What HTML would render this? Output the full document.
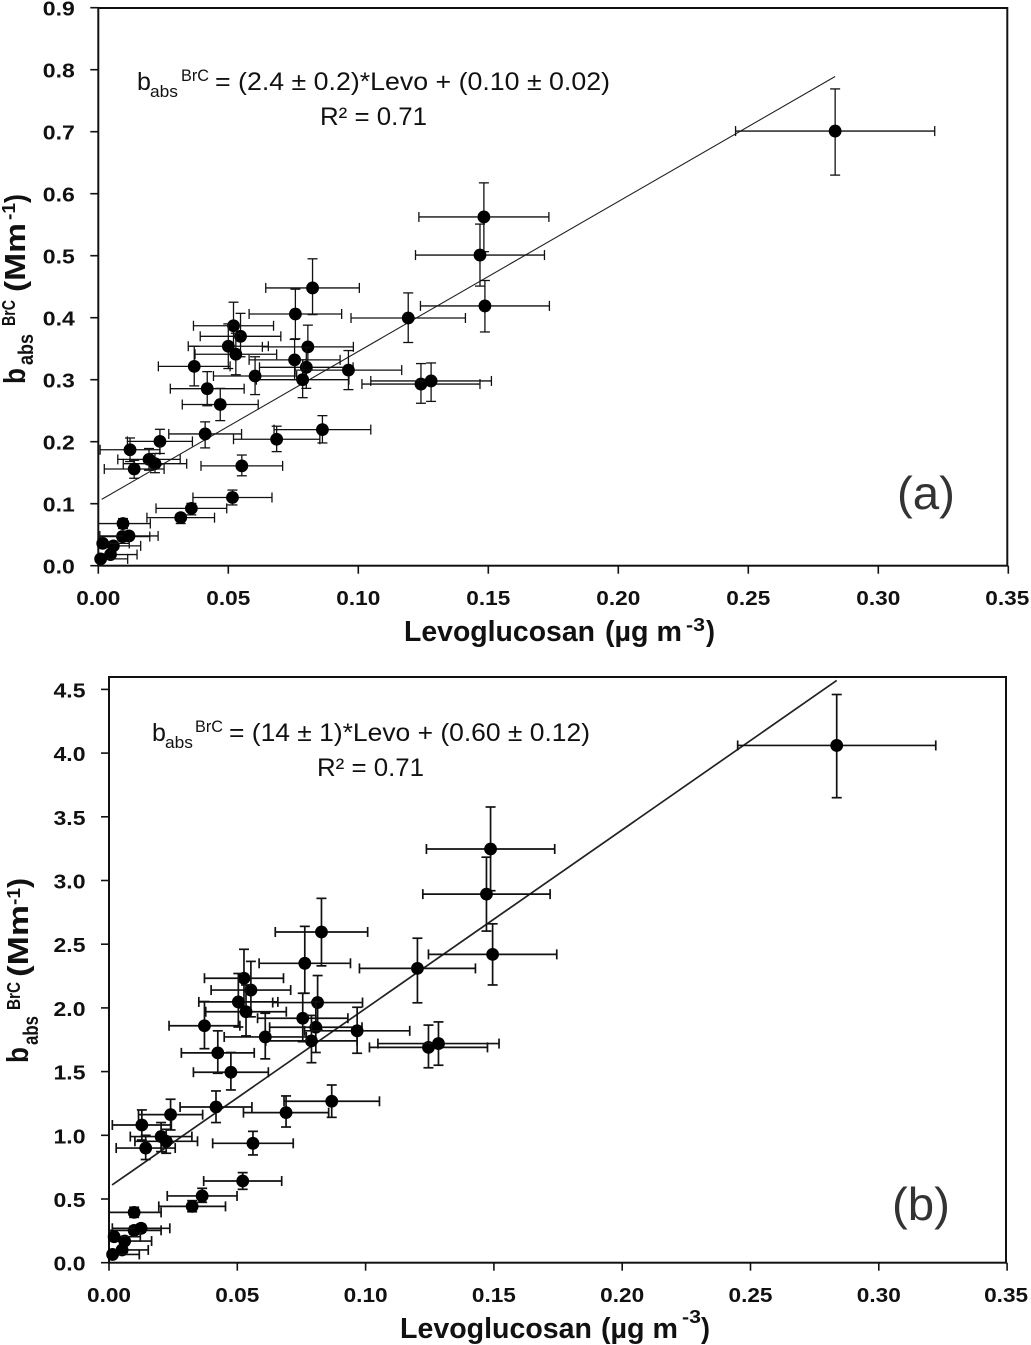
<!DOCTYPE html>
<html lang="en">
<head>
<meta charset="utf-8">
<title>Absorption versus levoglucosan scatter plots</title>
<style>
html,body{margin:0;padding:0;background:#fff}
svg{display:block;filter:blur(0.3px)}
text{font-family:"Liberation Sans",sans-serif;fill:#111}
.tick{font-size:20px;font-weight:bold}
.title{font-weight:bold}
.eq{font-size:25px}
</style>
</head>
<body>
<svg id="chart" width="1031" height="1345" viewBox="0 0 1031 1345" xmlns="http://www.w3.org/2000/svg">
<rect width="1031" height="1345" fill="#fff"/>
<g id="panel-a"></g>
<g id="panel-b"></g>

<g>
<text class="eq" x="137" y="90" textLength="12">b</text>
<text class="eq" x="150" y="97" style="font-size:17px" textLength="28" lengthAdjust="spacingAndGlyphs">abs</text>
<text class="eq" x="181" y="81" style="font-size:17px" textLength="28" lengthAdjust="spacingAndGlyphs">BrC</text>
<text class="eq" x="215" y="90" textLength="395" lengthAdjust="spacingAndGlyphs">= (2.4 ± 0.2)*Levo + (0.10 ± 0.02)</text>
<text class="eq" x="320" y="125" textLength="107" lengthAdjust="spacingAndGlyphs">R² = 0.71</text>
</g>
<g>
<text class="eq" x="152" y="741" textLength="12">b</text>
<text class="eq" x="165" y="748" style="font-size:17px" textLength="28" lengthAdjust="spacingAndGlyphs">abs</text>
<text class="eq" x="195" y="732" style="font-size:17px" textLength="28" lengthAdjust="spacingAndGlyphs">BrC</text>
<text class="eq" x="229" y="741" textLength="361" lengthAdjust="spacingAndGlyphs">= (14 ± 1)*Levo + (0.60 ± 0.12)</text>
<text class="eq" x="317" y="776" textLength="107" lengthAdjust="spacingAndGlyphs">R² = 0.71</text>
</g>

<text x="897" y="509" style="font-size:46px;fill:#333" textLength="58" lengthAdjust="spacingAndGlyphs">(a)</text>
<text x="892" y="1220" style="font-size:46px;fill:#333" textLength="58" lengthAdjust="spacingAndGlyphs">(b)</text>

<g>
<text class="title" x="404" y="641" style="font-size:29px" textLength="191" lengthAdjust="spacingAndGlyphs">Levoglucosan</text>
<text class="title" x="605" y="641" style="font-size:29px" textLength="77" lengthAdjust="spacingAndGlyphs">(µg m</text>
<text class="title" x="686" y="631" style="font-size:18px" textLength="19" lengthAdjust="spacingAndGlyphs">-3</text>
<text class="title" x="706" y="641" style="font-size:29px" textLength="9" lengthAdjust="spacingAndGlyphs">)</text>
</g>
<g>
<text class="title" x="400" y="1338" style="font-size:29px" textLength="192" lengthAdjust="spacingAndGlyphs">Levoglucosan</text>
<text class="title" x="601" y="1338" style="font-size:29px" textLength="77" lengthAdjust="spacingAndGlyphs">(µg m</text>
<text class="title" x="682" y="1323" style="font-size:18px" textLength="19" lengthAdjust="spacingAndGlyphs">-3</text>
<text class="title" x="701" y="1338" style="font-size:29px" textLength="9" lengthAdjust="spacingAndGlyphs">)</text>
</g>

<g transform="translate(25,384) rotate(-90)">
<text class="title" x="0" y="0" style="font-size:31px" textLength="16" lengthAdjust="spacingAndGlyphs">b</text>
<text class="title" x="19" y="8" style="font-size:21px" textLength="31" lengthAdjust="spacingAndGlyphs">abs</text>
<text class="title" x="58" y="-10" style="font-size:18px" textLength="26" lengthAdjust="spacingAndGlyphs">BrC</text>
<text class="title" x="92" y="0" style="font-size:29px" textLength="69" lengthAdjust="spacingAndGlyphs">(Mm</text>
<text class="title" x="164" y="-10" style="font-size:18px" textLength="17" lengthAdjust="spacingAndGlyphs">-1</text>
<text class="title" x="181" y="0" style="font-size:29px" textLength="9" lengthAdjust="spacingAndGlyphs">)</text>
</g>
<g transform="translate(28,1063) rotate(-90)">
<text class="title" x="0" y="0" style="font-size:31px" textLength="16" lengthAdjust="spacingAndGlyphs">b</text>
<text class="title" x="18" y="10" style="font-size:21px" textLength="29" lengthAdjust="spacingAndGlyphs">abs</text>
<text class="title" x="53" y="-8" style="font-size:18px" textLength="28" lengthAdjust="spacingAndGlyphs">BrC</text>
<text class="title" x="86" y="0" style="font-size:29px" textLength="72" lengthAdjust="spacingAndGlyphs">(Mm</text>
<text class="title" x="158" y="-8" style="font-size:18px" textLength="17" lengthAdjust="spacingAndGlyphs">-1</text>
<text class="title" x="175" y="0" style="font-size:29px" textLength="10" lengthAdjust="spacingAndGlyphs">)</text>
</g>
</svg>

<script>
// Shared x-axis ticks
var xTickValues = [0, 0.05, 0.10, 0.15, 0.20, 0.25, 0.30, 0.35];
var xTickLabels = ["0.00", "0.05", "0.10", "0.15", "0.20", "0.25", "0.30", "0.35"];

// Panel (a)
var aYTickValues = [0, 0.1, 0.2, 0.3, 0.4, 0.5, 0.6, 0.7, 0.8, 0.9];
var aYTickLabels = ["0.0", "0.1", "0.2", "0.3", "0.4", "0.5", "0.6", "0.7", "0.8", "0.9"];
var aLevo = [.0824,.0758,.0755,.052,.0547,.05,.0529,.0369,.0806,.08,.0786,.0603,.0962,.0419,.0469,.0237,.0411,.0686,.0862,.0122,.0195,.0218,.0138,.0552,.0516,.0358,.0317,.0095,.0093,.0118,.0058,.0047,.0017,.0009,.2834,.1483,.1468,.1487,.1192,.1241,.128];
var aBabs = [.448,.406,.332,.387,.37,.354,.341,.3215,.353,.32,.30,.306,.3155,.2855,.26,.2005,.2125,.204,.2195,.187,.1715,.1645,.156,.161,.11,.0925,.0775,.068,.047,.048,.032,.018,.036,.011,.701,.5625,.501,.419,.3995,.293,.298];
var aLevoErr = [.018,.0178,.0175,.0154,.0155,.0154,.0157,.0138,.0175,.018,.0178,.016,.0205,.0142,.0146,.0125,.014,.0166,.0186,.0115,.012,.0122,.0115,.0157,.0152,.0136,.013,.0105,.0105,.0112,.0105,.0102,.0102,.0104,.0383,.025,.0248,.0248,.022,.0227,.0232];
var aBabsErrUp = [.047,.04,.033,.038,.037,.036,.034,.0325,.035,.032,.032,.031,.0315,.0275,.026,.0195,.0195,.021,.0225,.019,.0175,.0165,.014,.0175,.012,.008,.0055,.008,.006,.006,.005,.004,.006,.003,.068,.055,.05,.041,.0405,.033,.029];
var aBabsErrDown = [.043,.04,.032,.037,.033,.036,.033,.0315,.037,.034,.029,.03,.0315,.0275,.026,.0195,.0225,.02,.0215,.019,.0175,.0145,.015,.016,.012,.0105,.0095,.008,.006,.006,.005,.004,.006,.003,.071,.056,.05,.042,.0395,.031,.033];
var aFitX = [0.0013, 0.2834];
var aFitY = [0.107, 0.789];

// Panel (b)
var bYTickValues = [0, 0.5, 1, 1.5, 2, 2.5, 3, 3.5, 4, 4.5];
var bYTickLabels = ["0.0", "0.5", "1.0", "1.5", "2.0", "2.5", "3.0", "3.5", "4.0", "4.5"];
var bLevo = [.0828,.0763,.0755,.0526,.0553,.0504,.0534,.0372,.0813,.0806,.0789,.0609,.0967,.0424,.0475,.024,.0417,.069,.0868,.0128,.0203,.0223,.0143,.0561,.0521,.0363,.0324,.0098,.0098,.0125,.0061,.0051,.002,.0014,.2836,.1487,.1471,.1495,.1202,.1245,.1284];
var bBabs = [2.596,2.35,1.919,2.233,2.14,2.047,1.97,1.86,2.042,1.848,1.741,1.772,1.82,1.647,1.495,1.162,1.222,1.178,1.267,1.081,.99,.953,.9,.937,.641,.524,.442,.395,.254,.27,.17,.10,.204,.065,4.06,3.247,2.893,2.42,2.31,1.69,1.72];
var bLevoErr = [.018,.0178,.0176,.0154,.0155,.0154,.0157,.0138,.0175,.018,.0178,.016,.0205,.0142,.0146,.0125,.014,.0166,.0186,.0115,.012,.0122,.0115,.0157,.0152,.0136,.013,.0105,.0105,.0112,.0105,.0102,.0102,.0104,.0386,.025,.0248,.025,.0226,.023,.0236];
var bBabsErrUp = [.264,.29,.196,.227,.225,.223,.21,.19,.212,.2,.2,.186,.185,.173,.155,.121,.126,.131,.128,.118,.11,.094,.1,.094,.066,.06,.045,.04,.03,.03,.02,.015,.02,.012,.4,.33,.29,.24,.237,.175,.17];
var bBabsErrDown = [.266,.235,.184,.233,.21,.197,.19,.18,.212,.198,.171,.172,.176,.16,.139,.12,.122,.113,.126,.118,.118,.094,.09,.091,.065,.05,.042,.039,.03,.03,.02,.015,.02,.012,.41,.327,.29,.24,.27,.16,.17];
var bFitX = [0.0012, 0.2836];
var bFitY = [0.61, 4.57];

var NS = "http://www.w3.org/2000/svg";

function aScaleX(v) { return 98.3 + v * 2600; }
function aScaleY(v) { return 565.7 - v * 620; }
function bScaleX(v) { return 109 + v * 2566; }
function bScaleY(v) { return 1262.7 - v * 127.4; }

function line(parent, x1, y1, x2, y2, width, color) {
  var el = document.createElementNS(NS, "line");
  el.setAttribute("x1", x1);
  el.setAttribute("y1", y1);
  el.setAttribute("x2", x2);
  el.setAttribute("y2", y2);
  el.setAttribute("stroke", color || "#111");
  el.setAttribute("stroke-width", width);
  parent.appendChild(el);
  return el;
}

function drawPanel(parent, prefix, sx, sy, frame, yTicks, yLabels, levo, babs, xErr, yUp, yDown, fitX, fitY, fitWidth, barWidth) {
  var box = document.createElementNS(NS, "rect");
  box.setAttribute("x", frame[0]);
  box.setAttribute("y", frame[1]);
  box.setAttribute("width", frame[2] - frame[0]);
  box.setAttribute("height", frame[3] - frame[1]);
  box.setAttribute("fill", "none");
  box.setAttribute("stroke", "#111");
  box.setAttribute("stroke-width", "2");
  
  
  parent.appendChild(box);

  xTickValues.forEach(function (v, i) {
    var px = sx(v);
    var t = line(parent, px, frame[3], px, frame[3] + 8, 1.6);
    
    
    var lab = document.createElementNS(NS, "text");
    lab.setAttribute("class", "tick");
    lab.setAttribute("x", px - 22 - (i === 7 ? 1 : 0));
    lab.setAttribute("y", frame[3] + 39.5);
    lab.setAttribute("textLength", "44");
    lab.setAttribute("lengthAdjust", "spacingAndGlyphs");
    lab.textContent = xTickLabels[i];
    
    
    parent.appendChild(lab);
  });

  yTicks.forEach(function (v, i) {
    var py = sy(v);
    var t = line(parent, frame[0] - 8, py, frame[0], py, 1.6);
    
    
    var lab = document.createElementNS(NS, "text");
    lab.setAttribute("class", "tick");
    lab.setAttribute("x", frame[0] - 23.5 - 32);
    lab.setAttribute("y", py + 8);
    lab.setAttribute("textLength", "32");
    lab.setAttribute("lengthAdjust", "spacingAndGlyphs");
    lab.textContent = yLabels[i];
    
    
    parent.appendChild(lab);
  });

  var fit = line(parent, sx(fitX[0]), sy(fitY[0]), sx(fitX[1]), sy(fitY[1]), fitWidth, "#222");
  
  

  levo.forEach(function (xv, i) {
    var g = document.createElementNS(NS, "g");
    
    
    var px = sx(xv), py = sy(babs[i]);
    var clipped = xv - xErr[i] < 0;
    var xl = clipped ? sx(0) : sx(xv - xErr[i]);
    var xr = sx(xv + xErr[i]);
    var yt = sy(babs[i] + yUp[i]), yb = sy(babs[i] - yDown[i]);
    line(g, xl, py, xr, py, barWidth);
    if (!clipped) {
      line(g, xl, py - 5, xl, py + 5, barWidth);
    }
    line(g, xr, py - 5, xr, py + 5, barWidth);
    line(g, px, yt, px, yb, barWidth);
    line(g, px - 5, yt, px + 5, yt, barWidth);
    line(g, px - 5, yb, px + 5, yb, barWidth);
    var c = document.createElementNS(NS, "circle");
    c.setAttribute("cx", px);
    c.setAttribute("cy", py);
    c.setAttribute("r", 6.4);
    c.setAttribute("fill", "#000");
    g.appendChild(c);
    parent.appendChild(g);
  });
}

drawPanel(document.getElementById("panel-a"), "panel-a", aScaleX, aScaleY, [98.3, 8, 1007.3, 565.7],
  aYTickValues, aYTickLabels, aLevo, aBabs, aLevoErr, aBabsErrUp, aBabsErrDown, aFitX, aFitY, 1.1, 1.3);
drawPanel(document.getElementById("panel-b"), "panel-b", bScaleX, bScaleY, [109, 677, 1006, 1262.7],
  bYTickValues, bYTickLabels, bLevo, bBabs, bLevoErr, bBabsErrUp, bBabsErrDown, bFitX, bFitY, 1.7, 1.7);
</script>
</body>
</html>
